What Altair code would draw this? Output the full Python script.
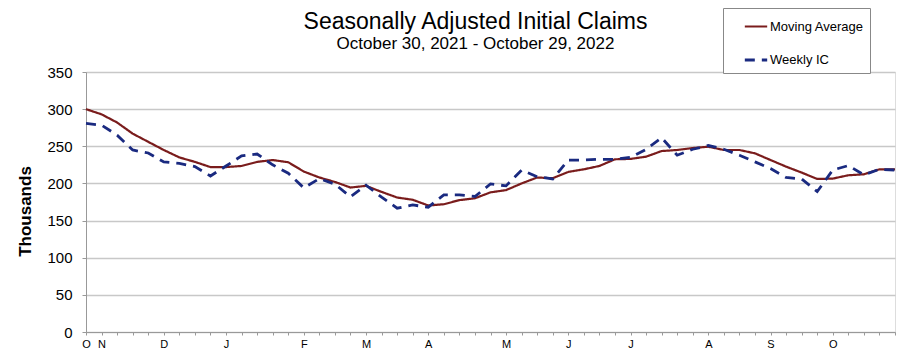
import altair as alt
import pandas as pd

week = list(range(53))
moving_avg = [300, 293, 282, 267, 256, 245, 235, 229, 222, 222, 223.5, 229, 231.5, 228.5,
              216, 208, 202, 194.5, 196.7, 188.6, 181, 178, 170.3, 172, 177.5, 180, 188, 191,
              200, 208, 207, 215.5, 219, 223.5, 232.5, 233, 236, 243.6, 245, 247.6, 249.4,
              245, 245, 240.5, 231.5, 222.6, 214.6, 206, 206.5, 211, 212.3, 219, 219]
weekly_ic = [280.7, 278.5, 265, 245, 241, 229, 227, 222.6, 210, 223.5, 237, 239.6, 225, 213.7,
             194, 206.5, 199, 182, 197.6, 181.5, 166.7, 171, 168, 184.6, 184.6, 182.4, 199.4,
             196.7, 218, 209, 206, 231.5, 231.5, 232.5, 232.5, 235, 245.9, 261.5, 238, 246,
             251, 246, 238, 229, 220, 208, 206, 189, 218, 224, 211.5, 219, 218]
series_names = ["Moving Average", "Weekly IC"]
tick_pos = [0, 1, 5, 9, 14, 18, 22, 27, 31, 35, 40, 44, 48]
tick_lab = ["O", "N", "D", "J", "F", "M", "A", "M", "J", "J", "A", "S", "O"]

df = pd.DataFrame({
    "week": week * 2,
    "value": moving_avg + weekly_ic,
    "series": [series_names[0]] * 53 + [series_names[1]] * 53,
})

pos_arr = "[" + ",".join(str(p) for p in tick_pos) + "]"
lab_arr = "[" + ",".join("'" + l + "'" for l in tick_lab) + "]"
label_expr = f"indexof({pos_arr}, datum.value) >= 0 ? {lab_arr}[indexof({pos_arr}, datum.value)] : ''"

FONT = "Liberation Sans"

chart = alt.Chart(df).mark_line(clip=False).encode(
    x=alt.X("week:Q", scale=alt.Scale(domain=[0, 52], nice=False, zero=False),
            axis=alt.Axis(values=week, labelExpr=label_expr, title=None, grid=False,
                          tickSize=3, tickColor="#999999", domainColor="#999999",
                          labelFontSize=11, labelColor="#000000", labelPadding=3,
                          labelFont=FONT, labelOverlap=False, labelFlush=False)),
    y=alt.Y("value:Q", scale=alt.Scale(domain=[0, 350], nice=False),
            axis=alt.Axis(values=list(range(0, 351, 50)), title="Thousands", ticks=True,
                          tickSize=4, tickColor="#999999",
                          grid=True, gridColor="#c8c8c8", gridWidth=1.3,
                          domainColor="#999999", labelFontSize=15, labelColor="#000000",
                          labelPadding=10, labelFont=FONT, titleFont=FONT,
                          titleFontSize=17, titleFontWeight="bold", titleColor="#000000",
                          titlePadding=12, titleY=139)),
    color=alt.Color("series:N", scale=alt.Scale(domain=series_names, range=["#7a1c1c", "#1a2a80"]),
                    legend=alt.Legend(title=None, orient="none", legendX=637, legendY=-64,
                                      strokeColor="#888888", fillColor="#ffffff",
                                      padding=6, rowPadding=13, labelFontSize=13,
                                      labelFont=FONT, labelColor="#000000",
                                      symbolType="stroke", symbolSize=500,
                                      symbolStrokeWidth=2.5, labelOffset=1,
                                      symbolOffset=14)),
    strokeDash=alt.StrokeDash("series:N", scale=alt.Scale(domain=series_names, range=[[1, 0], [10, 7]]),
                              legend=None),
    strokeWidth=alt.StrokeWidth("series:N", scale=alt.Scale(domain=series_names, range=[2.2, 2.8]),
                                legend=None),
).properties(
    width=809, height=260,
    title=alt.TitleParams(text="Seasonally Adjusted Initial Claims",
                          subtitle="October 30, 2021 - October 29, 2022",
                          font=FONT, fontSize=23, fontWeight="normal", color="#000000",
                          subtitleFont=FONT, subtitleFontSize=17, subtitleColor="#000000",
                          subtitlePadding=2, anchor="middle", dx=-15, offset=-44),
    autosize=alt.AutoSizeParams(type="none"),
    padding={"left": 86, "top": 72, "right": 14, "bottom": 21},
).configure_view(stroke="#bbbbbb", strokeWidth=1.2).configure(background="#ffffff")

chart.save("out.html", embed_options={"renderer": "svg", "actions": False})
